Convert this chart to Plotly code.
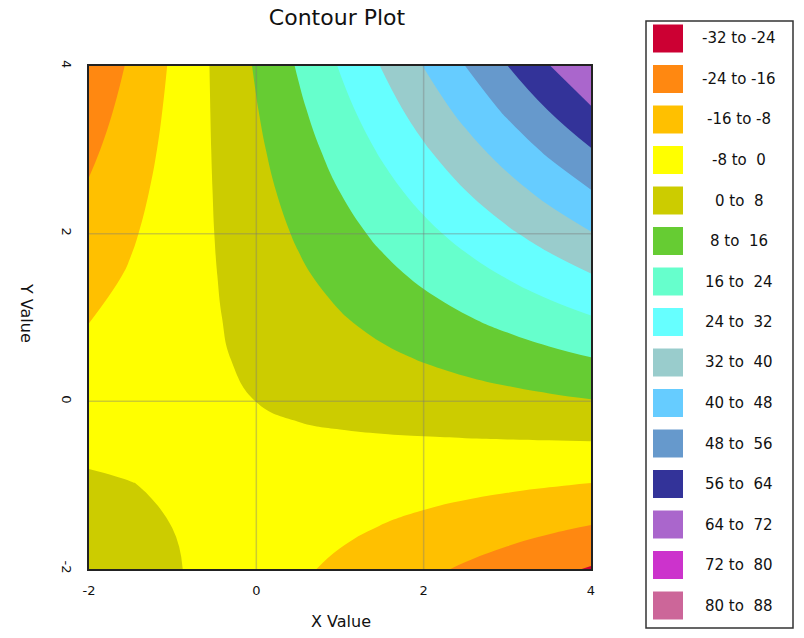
import plotly.graph_objects as go

# ---------------- data ----------------
x_vals = [-2, -1.5, -1, -0.5, 0, 0.5, 1, 1.5, 2, 2.5, 3, 3.5, 4]
y_vals = [-2, -1.5, -1, -0.5, 0, 0.5, 1, 1.5, 2, 2.5, 3, 3.5, 4]
# z_vals[row] corresponds to y_vals[row]; columns follow x_vals
z_vals = [
    [5.6, 3.1, 0.6, -1.9, -4.4, -6.9, -9.4, -11.9, -14.4, -16.9, -19.4, -21.9, -24.6],
    [3.25, 1.61, -0.03, -1.66, -3.3, -4.94, -6.58, -8.21, -9.85, -11.49, -13.13, -14.76, -16.4],
    [0.9, 0.13, -0.65, -1.43, -2.2, -2.98, -3.75, -4.53, -5.3, -6.08, -6.85, -7.63, -8.4],
    [-1.45, -1.36, -1.28, -1.19, -1.1, -1.01, -0.93, -0.84, -0.75, -0.66, -0.58, -0.49, -0.4],
    [-3.8, -2.85, -1.9, -0.95, 0.02, 0.95, 1.9, 2.85, 3.8, 4.75, 5.7, 6.65, 7.6],
    [-6.15, -4.34, -2.53, -0.71, 1.1, 2.91, 4.73, 6.54, 8.35, 10.16, 11.98, 13.79, 15.6],
    [-8.3, -5.83, -3.15, -0.48, 2.2, 4.88, 7.55, 10.23, 12.9, 15.58, 18.25, 20.93, 23.6],
    [-10.6, -7.31, -3.78, -0.24, 3.3, 6.84, 10.38, 13.91, 17.45, 20.99, 24.53, 28.06, 31.6],
    [-12.9, -8.8, -4.4, 0.02, 4.4, 8.8, 13.2, 17.6, 22.0, 26.4, 30.8, 35.2, 39.6],
    [-15.2, -10.29, -5.03, 0.24, 5.5, 10.76, 16.03, 21.29, 26.55, 31.81, 37.08, 42.34, 47.6],
    [-17.5, -11.9, -5.65, 0.48, 6.6, 12.73, 18.85, 24.98, 31.1, 37.23, 43.35, 49.48, 55.6],
    [-19.8, -13.4, -6.3, 0.71, 7.7, 14.69, 21.68, 28.66, 35.65, 42.64, 49.63, 56.61, 63.6],
    [-22.3, -14.9, -6.95, 0.95, 8.8, 16.65, 24.5, 32.35, 40.2, 48.05, 55.9, 63.75, 71.6],
]

band_labels = ["-32 to -24", "-24 to -16", "-16 to -8", "-8 to  0", "0 to  8",
               "8 to  16", "16 to  24", "24 to  32", "32 to  40", "40 to  48",
               "48 to  56", "56 to  64", "64 to  72", "72 to  80", "80 to  88"]
band_colors = ["#CC0033", "#FF8811", "#FFC000", "#FFFF00", "#CCCC00",
               "#66CC33", "#66FFCC", "#66FFFF", "#99CCCC", "#66CCFF",
               "#6699CC", "#333399", "#AA66CC", "#CC33CC", "#CC6699"]
level_start, level_end, level_step = -24, 80, 8

x_ticks = [-2, 0, 2, 4]
y_ticks = [-2, 0, 2, 4]

# ---------------- figure ----------------
W, H = 804, 638
L, R, T, B = 89, 591, 66, 569   # plot area in pixels

n = len(band_colors)
colorscale = []
for k, c in enumerate(band_colors):
    colorscale.append([k / n, c])
    colorscale.append([(k + 1) / n, c])

fig = go.Figure()
fig.add_trace(go.Contour(
    x=x_vals, y=y_vals, z=z_vals,
    autocontour=False,
    contours=dict(start=level_start, end=level_end, size=level_step, coloring="fill"),
    colorscale=colorscale,
    showscale=False,
    line=dict(width=0, smoothing=1.3),
    hoverinfo="x+y+z",
))

def px2paper_x(px):
    return (px - L) / (R - L)

def px2paper_y(py):
    return (B - py) / (B - T)

shapes = []
# grid lines drawn above the filled contours
for v in x_ticks[1:-1]:
    shapes.append(dict(type="line", xref="x", yref="paper", x0=v, x1=v, y0=0, y1=1,
                       layer="above", line=dict(color="rgba(120,120,120,0.38)", width=1.5)))
for v in y_ticks[1:-1]:
    shapes.append(dict(type="line", xref="paper", yref="y", x0=0, x1=1, y0=v, y1=v,
                       layer="above", line=dict(color="rgba(120,120,120,0.38)", width=1.5)))

# legend box
shapes.append(dict(type="rect", xref="paper", yref="paper",
                   x0=px2paper_x(646), x1=px2paper_x(793),
                   y0=px2paper_y(628), y1=px2paper_y(21),
                   line=dict(color="#333333", width=1.5), fillcolor="white", layer="below"))
annotations = []
for k, (lab, col) in enumerate(zip(band_labels, band_colors)):
    cy = 38.5 + 40.5 * k
    shapes.append(dict(type="rect", xref="paper", yref="paper",
                       x0=px2paper_x(653), x1=px2paper_x(683),
                       y0=px2paper_y(cy + 14), y1=px2paper_y(cy - 14),
                       line=dict(width=0), fillcolor=col, layer="above"))
    annotations.append(dict(xref="paper", yref="paper", x=px2paper_x(739), y=px2paper_y(cy),
                            text=lab, showarrow=False, xanchor="center", yanchor="middle",
                            font=dict(family="DejaVu Sans", size=15, color="#111111")))

# axis titles
annotations.append(dict(xref="paper", yref="paper", x=px2paper_x(341), y=px2paper_y(621),
                        text="X Value", showarrow=False, xanchor="center", yanchor="middle",
                        font=dict(family="DejaVu Sans", size=16, color="#111111")))
annotations.append(dict(xref="paper", yref="paper", x=px2paper_x(27), y=px2paper_y(313),
                        text="Y Value", showarrow=False, xanchor="center", yanchor="middle",
                        textangle=90,
                        font=dict(family="DejaVu Sans", size=16, color="#111111")))

axis_common = dict(showgrid=False, zeroline=False, showline=True, mirror=True,
                   linecolor="#222222", linewidth=2, ticks="",
                   tickfont=dict(family="DejaVu Sans", size=13, color="#111111"))

fig.update_layout(
    width=W, height=H, autosize=False,
    margin=dict(l=L, r=W - R, t=T, b=H - B, pad=0),
    paper_bgcolor="white", plot_bgcolor="white",
    title=dict(text="Contour Plot", x=337 / W, xref="container",
               xanchor="center", y=1 - 17 / H, yref="container", yanchor="middle",
               font=dict(family="DejaVu Sans", size=22, color="#111111")),
    xaxis=dict(range=[-2, 4], tickvals=x_ticks, ticktext=[str(t) for t in x_ticks],
               ticklabelstandoff=8, **axis_common),
    yaxis=dict(range=[-2, 4], tickvals=y_ticks, ticktext=[str(t) for t in y_ticks],
               tickangle=90, ticklabelstandoff=9, **axis_common),
    shapes=shapes,
    annotations=annotations,
    showlegend=False,
)

fig.write_html("out.html")
